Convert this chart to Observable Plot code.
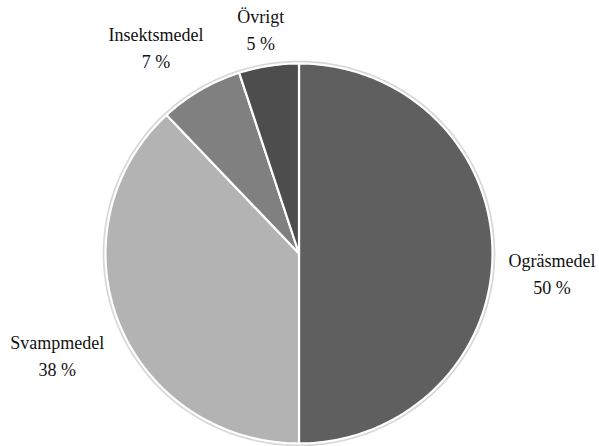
<!DOCTYPE html>
<html>
<head>
<meta charset="utf-8">
<script src="https://cdn.jsdelivr.net/npm/d3@7"></script>
<script src="https://cdn.jsdelivr.net/npm/@observablehq/plot@0.6"></script>
<style>
  html, body { margin: 0; padding: 0; background: #fff; }
  #chart svg { display: block; }
</style>
</head>
<body>
<div id="chart"></div>
<script>
// Data (share of use, percent) — slices go clockwise from 12 o'clock
const categories = ["Ogräsmedel", "Svampmedel", "Insektsmedel", "Övrigt"];
const values = [50, 38, 7, 5];
const labels = ["50 %", "38 %", "7 %", "5 %"];
const colors = ["#5f5f5f", "#b3b3b3", "#808080", "#4d4d4d"];

const W = 599, H = 446;
const FONT = "'Liberation Serif', 'Times New Roman', serif";
const FS = 18;

const total = d3.sum(values);
let acc = 0;
const slices = categories.map((name, i) => {
  const a0 = acc / total * 2 * Math.PI;
  acc += values[i];
  const a1 = acc / total * 2 * Math.PI;
  return {name, i, a0, a1, mid: (a0 + a1) / 2};
});
const pts = [];
for (const s of slices) {
  pts.push({name: s.name, x: 0, y: 0});
  const n = Math.max(2, Math.ceil((s.a1 - s.a0) / (2 * Math.PI) * 360));
  for (let k = 0; k <= n; k++) {
    const a = s.a0 + (s.a1 - s.a0) * k / n;
    pts.push({name: s.name, x: Math.sin(a), y: Math.cos(a)});
  }
}
// soft outer shadow ring
const ring = d3.range(0, 361, 2).map(d => ({x: 1.008 * Math.sin(d * Math.PI / 180), y: 1.008 * Math.cos(d * Math.PI / 180)}));

// Scales: unit circle mapped onto the pie box
const xRange = [105, 492], yRange = [443, 63];
const rx = (xRange[1] - xRange[0]) / 2, ry = (yRange[0] - yRange[1]) / 2;
const cy0 = (yRange[0] + yRange[1]) / 2;

// Label positions computed from each slice's mid angle and the text size
const ctx = document.createElement("canvas").getContext("2d");
ctx.font = `${FS}px ${FONT}`;
const gap = 16, lineGap = 27, boxH = 54, topMin = 3;
const clamp = v => Math.max(-1, Math.min(1, v));
const labelRows = [];
for (const s of slices) {
  const dx = Math.sin(s.mid), sdy = -Math.cos(s.mid); // screen-down positive
  const w = Math.max(ctx.measureText(s.name).width, ctx.measureText(labels[s.i]).width);
  const ax = dx * (rx + gap), ay = sdy * (ry + gap);
  const ux = clamp(1.5 * dx), uy = clamp(3 * sdy + 0.8);
  let bx = ax + ux * w / 2, by = ay + uy * boxH / 2; // px offsets from center, down-positive
  by = Math.max(by, topMin + boxH / 2 - cy0);
  labelRows.push({text: s.name, x: bx / rx, y: -(by - lineGap / 2) / ry});
  labelRows.push({text: labels[s.i], x: bx / rx, y: -(by + lineGap / 2) / ry});
}

const chart = Plot.plot({
  width: W,
  height: H,
  margin: 0,
  x: {domain: [-1, 1], range: xRange, axis: null},
  y: {domain: [-1, 1], range: yRange, axis: null},
  color: {domain: categories, range: colors},
  style: {fontFamily: FONT, background: "#fff"},
  marks: [
    Plot.line(ring, {x: "x", y: "y", stroke: "#bdbdbd", strokeOpacity: 0.6, strokeWidth: 2.5, curve: "linear-closed"}),
    Plot.line(pts, {
      x: "x", y: "y", z: "name", fill: "name",
      stroke: "white", strokeWidth: 2.2, strokeLinejoin: "round",
      curve: "linear-closed"
    }),
    Plot.text(labelRows, {
      x: "x", y: "y", text: "text",
      fontFamily: FONT, fontSize: FS, fill: "#111", textAnchor: "middle", lineAnchor: "middle"
    })
  ]
});
document.getElementById("chart").appendChild(chart);
</script>
</body>
</html>
